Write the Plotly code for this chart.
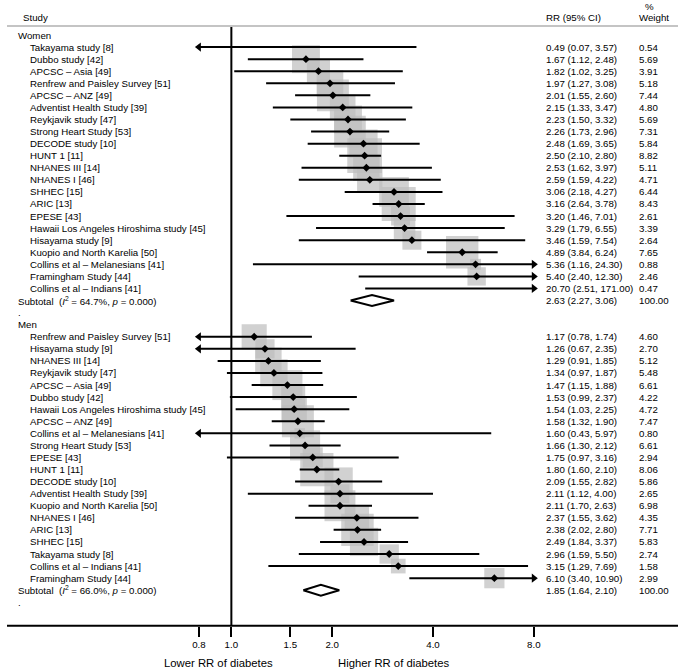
import math
import plotly.graph_objects as go

# ---------------- data ----------------
women_studies = [
    "Takayama study [8]", "Dubbo study [42]", "APCSC – Asia [49]",
    "Renfrew and Paisley Survey [51]", "APCSC – ANZ [49]", "Adventist Health Study [39]",
    "Reykjavik study [47]", "Strong Heart Study [53]", "DECODE study [10]", "HUNT 1 [11]",
    "NHANES III [14]", "NHANES I [46]", "SHHEC [15]", "ARIC [13]", "EPESE [43]",
    "Hawaii Los Angeles Hiroshima study [45]", "Hisayama study [9]",
    "Kuopio and North Karelia [50]", "Collins et al – Melanesians [41]",
    "Framingham Study [44]", "Collins et al – Indians [41]",
]
women_rr = [0.49, 1.67, 1.82, 1.97, 2.01, 2.15, 2.23, 2.26, 2.48, 2.50, 2.53, 2.59,
            3.06, 3.16, 3.20, 3.29, 3.46, 4.89, 5.36, 5.40, 20.70]
women_lo = [0.07, 1.12, 1.02, 1.27, 1.55, 1.33, 1.50, 1.73, 1.69, 2.10, 1.62, 1.59,
            2.18, 2.64, 1.46, 1.79, 1.59, 3.84, 1.16, 2.40, 2.51]
women_hi = [3.57, 2.48, 3.25, 3.08, 2.60, 3.47, 3.32, 2.96, 3.65, 2.80, 3.97, 4.22,
            4.27, 3.78, 7.01, 6.55, 7.54, 6.24, 24.30, 12.30, 171.00]
women_wt = [0.54, 5.69, 3.91, 5.18, 7.44, 4.80, 5.69, 7.31, 5.84, 8.82, 5.11, 4.71,
            6.44, 8.43, 2.61, 3.39, 2.64, 7.65, 0.88, 2.46, 0.47]
women_sub = [2.63, 2.27, 3.06]
women_i2, women_p = "64.7%", "0.000"

men_studies = [
    "Renfrew and Paisley Survey [51]", "Hisayama study [9]", "NHANES III [14]",
    "Reykjavik study [47]", "APCSC – Asia [49]", "Dubbo study [42]",
    "Hawaii Los Angeles Hiroshima study [45]", "APCSC – ANZ [49]",
    "Collins et al – Melanesians [41]", "Strong Heart Study [53]", "EPESE [43]",
    "HUNT 1 [11]", "DECODE study [10]", "Adventist Health Study [39]",
    "Kuopio and North Karelia [50]", "NHANES I [46]", "ARIC [13]", "SHHEC [15]",
    "Takayama study [8]", "Collins et al – Indians [41]", "Framingham Study [44]",
]
men_rr = [1.17, 1.26, 1.29, 1.34, 1.47, 1.53, 1.54, 1.58, 1.60, 1.66, 1.75, 1.80,
          2.09, 2.11, 2.11, 2.37, 2.38, 2.49, 2.96, 3.15, 6.10]
men_lo = [0.78, 0.67, 0.91, 0.97, 1.15, 0.99, 1.03, 1.32, 0.43, 1.30, 0.97, 1.60,
          1.55, 1.12, 1.70, 1.55, 2.02, 1.84, 1.59, 1.29, 3.40]
men_hi = [1.74, 2.35, 1.85, 1.87, 1.88, 2.37, 2.25, 1.90, 5.97, 2.12, 3.16, 2.10,
          2.82, 4.00, 2.63, 3.62, 2.80, 3.37, 5.50, 7.69, 10.90]
men_wt = [4.60, 2.70, 5.12, 5.48, 6.61, 4.22, 4.72, 7.47, 0.80, 6.61, 2.94, 8.06,
          5.86, 2.65, 6.98, 4.35, 7.71, 5.83, 2.74, 1.58, 2.99]
men_sub = [1.85, 1.64, 2.10]
men_i2, men_p = "66.0%", "0.000"

tick_vals = [0.8, 1.0, 1.5, 2.0, 4.0, 8.0]
tick_text = ["0.8", "1.0", "1.5", "2.0", "4.0", "8.0"]
x_min, x_max = 0.8, 8.0
null_value = 1.0

# ---------------- layout constants (page pixels) ----------------
W, H = 685, 670
ROW0_PX, PITCH = 35.0, 12.07
AXIS_PX = 625.7
SEP_PX = 26.0
X_LEFT_PX, X_RIGHT_PX = 195.9, 537.8
FONT = "Liberation Sans, Arial, Helvetica, sans-serif"
FS = 9.7
FS_CAP = 11.3
BOX_K = 11.7
GRAY = "#bebebe"


def px_x(px):
    return px / W


def px_y(px):
    return 1 - px / H


def row_of_px(px):
    return (px - ROW0_PX) / PITCH


def fmt(v):
    return f"{v:.2f}"


n_w = len(women_studies)
n_m = len(men_studies)
women_rows = list(range(1, n_w + 1))
women_sub_row = n_w + 1
men_head_row = n_w + 3
men_rows = list(range(men_head_row + 1, men_head_row + 1 + n_m))
men_sub_row = men_head_row + n_m + 1

all_rr = women_rr + men_rr
all_lo = women_lo + men_lo
all_hi = women_hi + men_hi
all_wt = women_wt + men_wt
all_rows = women_rows + men_rows

fig = go.Figure()

# weight boxes
fig.add_trace(go.Scatter(
    x=all_rr, y=all_rows, mode="markers",
    marker=dict(symbol="square", size=[BOX_K * math.sqrt(w) for w in all_wt],
                color=GRAY, line=dict(width=0)),
    hoverinfo="skip", showlegend=False))

# null line
fig.add_trace(go.Scatter(
    x=[null_value, null_value], y=[row_of_px(SEP_PX), row_of_px(AXIS_PX)],
    mode="lines", line=dict(color="black", width=2), hoverinfo="skip", showlegend=False))

# CI lines
cx, cy = [], []
for lo, hi, r in zip(all_lo, all_hi, all_rows):
    cx += [max(lo, x_min), min(hi, x_max), None]
    cy += [r, r, None]
fig.add_trace(go.Scatter(x=cx, y=cy, mode="lines", line=dict(color="black", width=2),
                         hoverinfo="skip", showlegend=False))

# point estimates
fig.add_trace(go.Scatter(
    x=all_rr, y=all_rows, mode="markers",
    marker=dict(symbol="diamond", size=6, color="black", line=dict(width=0)),
    hoverinfo="skip", showlegend=False))

# arrows for truncated CIs
lx = [x_min for lo in all_lo if lo < x_min]
ly = [r for lo, r in zip(all_lo, all_rows) if lo < x_min]
rx = [x_max for hi in all_hi if hi > x_max]
ry = [r for hi, r in zip(all_hi, all_rows) if hi > x_max]
fig.add_trace(go.Scatter(x=lx, y=ly, mode="markers", cliponaxis=False,
                         marker=dict(symbol="triangle-left", size=8, color="black"),
                         hoverinfo="skip", showlegend=False))
fig.add_trace(go.Scatter(x=rx, y=ry, mode="markers", cliponaxis=False,
                         marker=dict(symbol="triangle-right", size=8, color="black"),
                         hoverinfo="skip", showlegend=False))

# subtotal diamonds
HALF = 0.45
for (est, lo, hi), r in [(women_sub, women_sub_row), (men_sub, men_sub_row)]:
    fig.add_trace(go.Scatter(
        x=[lo, est, hi, est, lo], y=[r, r - HALF, r, r + HALF, r],
        mode="lines", fill="toself", fillcolor="white",
        line=dict(color="black", width=2), hoverinfo="skip", showlegend=False))

# ---------------- text ----------------
ann = []


def txt(x_px, row, s, anchor="left", size=FS):
    ann.append(dict(x=px_x(x_px), xref="paper", y=row, yref="y", text=s,
                    showarrow=False, xanchor=anchor, yanchor="middle",
                    font=dict(family=FONT, size=size, color="black")))


COL_NAME, COL_GRP, COL_RR, COL_WT = 21, 9, 548, 643

txt(14, row_of_px(17), "Study")
txt(COL_RR, row_of_px(17), "RR (95% CI)")
txt(649, row_of_px(6), "%")
txt(COL_WT, row_of_px(17), "Weight")

txt(COL_GRP, 0, "Women")
for s, rr, lo, hi, w, r in zip(women_studies, women_rr, women_lo, women_hi, women_wt, women_rows):
    txt(COL_NAME, r, s)
    txt(COL_RR, r, f"{fmt(rr)} ({fmt(lo)}, {fmt(hi)})")
    txt(COL_WT, r, fmt(w))
txt(COL_GRP, women_sub_row, f"Subtotal  (<i>I</i><sup>2</sup> = {women_i2}, <i>p</i> = {women_p})")
txt(COL_RR, women_sub_row, f"{fmt(women_sub[0])} ({fmt(women_sub[1])}, {fmt(women_sub[2])})")
txt(COL_WT, women_sub_row, "100.00")
txt(COL_GRP, women_sub_row + 1, ".")

txt(COL_GRP, men_head_row, "Men")
for s, rr, lo, hi, w, r in zip(men_studies, men_rr, men_lo, men_hi, men_wt, men_rows):
    txt(COL_NAME, r, s)
    txt(COL_RR, r, f"{fmt(rr)} ({fmt(lo)}, {fmt(hi)})")
    txt(COL_WT, r, fmt(w))
txt(COL_GRP, men_sub_row, f"Subtotal  (<i>I</i><sup>2</sup> = {men_i2}, <i>p</i> = {men_p})")
txt(COL_RR, men_sub_row, f"{fmt(men_sub[0])} ({fmt(men_sub[1])}, {fmt(men_sub[2])})")
txt(COL_WT, men_sub_row, "100.00")
txt(COL_GRP, men_sub_row + 1, ".")

for s, xc in [("Lower RR of diabetes", 216), ("Higher RR of diabetes", 395)]:
    ann.append(dict(x=px_x(xc), xref="paper", y=px_y(663), yref="paper", text=s,
                    showarrow=False, xanchor="center", yanchor="middle",
                    font=dict(family=FONT, size=FS_CAP, color="black")))

shapes = [
    dict(type="line", xref="paper", yref="paper", x0=0, x1=1,
         y0=px_y(SEP_PX), y1=px_y(SEP_PX), line=dict(color="#c4c4c4", width=2)),
    dict(type="line", xref="paper", yref="paper", x0=0, x1=1,
         y0=px_y(AXIS_PX), y1=px_y(AXIS_PX), line=dict(color="black", width=2)),
]

fig.update_layout(
    width=W, height=H, margin=dict(l=0, r=0, t=0, b=0),
    paper_bgcolor="white", plot_bgcolor="rgba(0,0,0,0)",
    font=dict(family=FONT, size=FS, color="black"),
    annotations=ann, shapes=shapes, showlegend=False, hovermode=False,
    xaxis=dict(type="log", range=[math.log10(x_min), math.log10(x_max)],
               domain=[px_x(X_LEFT_PX), px_x(X_RIGHT_PX)], anchor="free",
               position=px_y(AXIS_PX), showline=False, showgrid=False, zeroline=False,
               ticks="outside", ticklen=10, tickwidth=2, tickcolor="black",
               tickvals=tick_vals, ticktext=tick_text,
               tickfont=dict(family=FONT, size=FS, color="black")),
    yaxis=dict(range=[row_of_px(H), row_of_px(0)], domain=[0, 1], visible=False,
               showgrid=False, zeroline=False),
)

# remove the browser's default page margin so the figure fills the window
fig.write_html("out.html",
               config={"displayModeBar": False},
               post_script="document.body.style.margin='0';document.body.style.overflow='hidden';")
